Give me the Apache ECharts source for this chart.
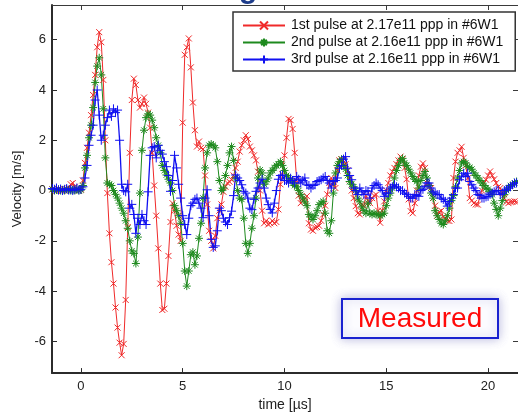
<!DOCTYPE html>
<html>
<head>
<meta charset="utf-8">
<script src="https://cdn.jsdelivr.net/npm/echarts@6/dist/echarts.min.js"></script>
<style>
  html, body { margin: 0; padding: 0; background: #fff; }
  #chart { width: 518px; height: 417px; }
</style>
</head>
<body>
<div id="chart"></div>
<script>
// Sample times (µs), one row per microsecond
const times = [
  -1.4,-1.3,-1.2,-1.1,-1.0,-0.9,-0.8,-0.7,-0.6,-0.5,
  -0.4,-0.3,-0.2,-0.1,0.0,0.1,0.2,0.3,0.4,0.5,
  0.6,0.7,0.8,0.9,1.0,1.1,1.2,1.3,1.4,1.5,
  1.6,1.7,1.8,1.9,2.0,2.1,2.2,2.3,2.4,2.5,
  2.6,2.7,2.8,2.9,3.0,3.1,3.2,3.3,3.4,3.5,
  3.6,3.7,3.8,3.9,4.0,4.1,4.2,4.3,4.4,4.5,
  4.6,4.7,4.8,4.9,5.0,5.1,5.2,5.3,5.4,5.5,
  5.6,5.7,5.8,5.9,6.0,6.1,6.2,6.3,6.4,6.5,
  6.6,6.7,6.8,6.9,7.0,7.1,7.2,7.3,7.4,7.5,
  7.6,7.7,7.8,7.9,8.0,8.1,8.2,8.3,8.4,8.5,
  8.6,8.7,8.8,8.9,9.0,9.1,9.2,9.3,9.4,9.5,
  9.6,9.7,9.8,9.9,10.0,10.1,10.2,10.3,10.4,10.5,
  10.6,10.7,10.8,10.9,11.0,11.1,11.2,11.3,11.4,11.5,
  11.6,11.7,11.8,11.9,12.0,12.1,12.2,12.3,12.4,12.5,
  12.6,12.7,12.8,12.9,13.0,13.1,13.2,13.3,13.4,13.5,
  13.6,13.7,13.8,13.9,14.0,14.1,14.2,14.3,14.4,14.5,
  14.6,14.7,14.8,14.9,15.0,15.1,15.2,15.3,15.4,15.5,
  15.6,15.7,15.8,15.9,16.0,16.1,16.2,16.3,16.4,16.5,
  16.6,16.7,16.8,16.9,17.0,17.1,17.2,17.3,17.4,17.5,
  17.6,17.7,17.8,17.9,18.0,18.1,18.2,18.3,18.4,18.5,
  18.6,18.7,18.8,18.9,19.0,19.1,19.2,19.3,19.4,19.5,
  19.6,19.7,19.8,19.9,20.0,20.1,20.2,20.3,20.4,20.5,
  20.6,20.7,20.8,20.9,21.0,21.1,21.2,21.3,21.4
];

// Velocity (m/s), 1st pulse
const pulse1 = [
  0.05,0.02,0.0,0.05,0.03,0.0,0.02,0.05,0.1,0.25,
  0.3,0.15,0.05,0.0,0.05,0.4,1.1,1.7,2.3,3.0,
  3.8,4.6,5.7,6.3,5.9,4.4,2.0,-0.1,-1.7,-2.85,
  -3.7,-4.65,-5.45,-6.05,-6.55,-6.1,-4.35,-1.45,1.5,3.6,
  4.45,4.2,3.6,3.3,3.45,3.7,3.45,3.1,2.5,1.5,
  0.2,-1.0,-2.3,-3.7,-4.75,-4.7,-3.7,-2.6,-1.25,-0.5,
  -0.8,-1.4,-1.75,-2.0,2.7,5.4,5.7,6.05,4.9,3.5,
  2.4,1.75,1.95,1.7,1.65,0.6,-0.55,-1.6,-2.0,-2.3,
  -1.8,-1.1,-0.8,-0.55,-0.05,0.15,0.3,0.35,0.43,0.6,
  0.9,1.15,1.55,1.8,2.0,2.2,2.05,1.75,1.6,1.4,
  1.2,0.75,0.0,-0.8,-1.3,-1.2,-1.35,-1.3,-1.2,-1.3,
  -1.25,-0.75,0.25,0.65,1.4,2.1,2.85,2.8,2.45,1.5,
  0.4,-0.2,-0.5,-0.43,-0.3,-0.22,-1.3,-1.55,-1.6,-1.47,
  -1.45,-1.4,-1.2,-0.95,-0.6,-0.15,0.3,0.5,0.35,0.1,
  0.8,1.2,1.25,1.2,1.05,0.8,0.44,0.0,-0.3,-0.62,
  -0.9,-0.95,-0.56,-0.6,-0.2,-0.4,-0.5,-0.3,-0.2,-0.16,
  -0.8,-1.28,-0.8,-0.43,0.0,0.3,0.6,0.75,0.9,1.05,
  1.2,1.35,1.25,0.9,0.45,-0.35,-0.82,-0.9,-0.5,0.0,
  0.6,0.95,1.08,0.9,0.3,0.15,0.1,-0.3,-0.6,-1.0,
  -0.85,-0.8,-1.05,-1.1,-1.2,-1.21,-1.15,0.5,1.15,1.5,
  1.6,1.74,1.3,1.0,0.5,-0.3,-0.4,-0.5,-0.55,-0.56,
  -0.2,0.0,0.3,0.43,0.6,0.76,0.6,0.45,0.3,0.15,
  0.1,-0.1,-0.3,-0.45,-0.5,-0.45,-0.45,-0.43,-0.45
];

// Velocity (m/s), 2nd pulse
const pulse2 = [
  0.05,0.0,0.02,0.05,0.0,0.03,0.0,0.05,0.02,0.0,
  0.03,0.0,0.05,0.0,0.02,0.2,0.9,1.4,2.1,2.6,
  3.3,4.3,4.95,5.28,4.6,3.25,1.3,0.3,0.25,0.2,
  0.0,-0.15,-0.3,-0.5,-0.7,-0.9,-1.2,-1.5,-2.0,-2.4,
  -2.5,-2.9,-1.85,-0.1,1.6,2.4,2.9,3.05,3.0,2.8,
  2.5,2.1,1.8,1.5,1.0,0.8,0.62,0.45,0.3,0.0,
  -0.6,-0.8,-1.0,-1.3,-2.1,-3.2,-3.8,-3.2,-2.55,-2.45,
  -2.95,-2.6,-1.9,-1.3,-0.3,0.9,1.5,1.8,1.85,1.8,
  1.7,1.15,0.4,0.0,0.1,0.6,1.0,1.5,1.75,1.2,
  0.5,0.0,-0.3,-0.35,-1.1,-2.1,-2.5,-2.1,-1.5,-1.0,
  -0.3,0.5,0.82,0.7,0.25,0.35,0.5,0.7,0.8,0.9,
  1.0,1.05,1.15,1.0,0.8,0.6,0.5,0.45,0.3,0.2,
  0.15,0.0,-0.15,-0.3,-0.45,-0.6,-0.95,-1.05,-1.15,-1.0,
  -0.8,-0.56,-0.5,-0.43,-0.9,-1.6,-1.7,-1.2,-0.1,0.7,
  1.0,1.15,1.25,1.0,0.85,0.6,0.36,0.25,0.15,0.0,
  -0.3,-0.45,-0.65,-0.8,-0.9,-0.5,-0.9,-0.95,-0.9,-0.95,
  -0.95,-1.0,-0.95,-0.9,-0.6,-0.3,-0.1,0.1,0.5,0.8,
  1.0,1.2,1.28,1.1,1.0,0.85,0.7,0.56,0.45,0.36,
  0.1,0.4,0.6,0.76,0.5,0.2,-0.1,-0.3,-0.8,-1.0,
  -1.15,-1.3,-1.35,-1.2,-1.0,-0.7,-0.4,-0.2,0.15,0.5,
  0.8,1.1,1.15,1.1,0.95,0.92,0.85,0.7,0.6,0.5,
  0.4,0.3,0.2,0.1,0.05,-0.05,-0.16,-0.5,-0.75,-1.0,
  -0.7,-0.4,-0.16,0.0,0.1,0.2,0.23,0.3,0.36
];

// Velocity (m/s), 3rd pulse
const pulse3 = [
  0.08,0.05,0.1,0.02,0.06,0.0,0.05,0.08,0.02,0.05,
  0.0,0.05,0.1,0.03,0.05,0.15,0.5,1.0,1.8,2.2,
  2.6,3.6,4.0,3.0,2.0,2.2,2.6,2.9,3.2,2.95,
  3.25,3.1,3.2,2.0,0.25,0.0,-0.05,0.25,-0.7,-0.55,
  -0.95,-1.7,-1.1,-1.35,-0.95,-1.2,-1.35,-0.05,1.4,1.7,
  1.75,1.3,1.8,1.6,1.45,1.15,0.95,0.6,-0.03,0.4,
  1.4,0.9,0.25,-0.3,-1.0,-1.35,-1.75,-1.1,-0.6,-0.5,
  -0.35,-0.3,-0.5,-0.7,-1.08,-0.3,0.03,-1.0,-1.94,-2.26,
  -2.2,-1.6,-0.7,-0.8,-1.1,-1.25,-1.35,-1.08,-0.82,-0.2,
  0.62,0.5,0.4,0.23,-0.03,-0.1,-0.3,-0.7,-0.76,-0.35,
  -0.03,0.1,0.3,0.45,0.1,-0.3,-0.56,-0.75,-0.89,-0.5,
  0.0,0.45,0.6,0.62,0.4,0.4,0.3,0.49,0.4,0.3,
  0.56,0.45,0.3,0.4,0.5,0.23,0.2,0.1,0.2,0.23,
  0.36,0.4,0.43,0.5,0.56,0.4,0.3,0.1,0.36,0.4,
  0.5,0.89,1.0,1.25,1.35,0.89,0.6,0.43,0.1,0.0,
  -0.16,0.1,-0.05,-0.16,0.0,-0.03,-0.3,0.1,0.2,0.3,
  0.23,0.1,0.0,-0.23,-0.1,-0.1,0.1,0.15,0.23,0.15,
  0.1,0.0,0.0,-0.1,-0.15,-0.23,-0.3,-0.3,-0.16,-0.2,
  -0.23,0.0,0.05,0.17,0.3,0.3,0.1,-0.05,-0.1,-0.16,
  -0.16,-0.3,-0.35,-0.43,-0.62,-0.43,-0.3,-0.16,0.1,0.1,
  0.43,0.55,0.69,0.56,0.69,0.36,0.23,0.1,0.0,-0.16,
  -0.2,-0.3,-0.3,-0.25,-0.23,-0.15,-0.1,-0.05,0.0,0.0,
  -0.16,-0.1,0.0,0.05,0.1,0.15,0.23,0.3,0.3
];

const seriesNames = [
  '1st pulse at 2.17e11 ppp in #6W1',
  '2nd pulse at 2.16e11 ppp in #6W1',
  '3rd pulse at 2.16e11 ppp in #6W1'
];
const xTicks = [0, 5, 10, 15, 20];
const yTicks = [-6, -4, -2, 0, 2, 4, 6];

const FONT = '"Liberation Sans", Arial, Helvetica, sans-serif';

// marker outlines: cross, asterisk, plus
const MARK_X = 'path://M-1,-1L1,1M-1,1L1,-1';
const MARK_STAR = 'path://M0,-1L0,1M-1,0L1,0M-0.7,-0.7L0.7,0.7M-0.7,0.7L0.7,-0.7';
const MARK_PLUS = 'path://M0,-1L0,1M-1,0L1,0';

function pairs(vals) {
  return vals.map((v, i) => [times[i], v]);
}

function lineSeries(name, vals, color, symbol, size, width) {
  return {
    name: name,
    type: 'line',
    data: pairs(vals),
    symbol: symbol,
    symbolSize: size,
    showAllSymbol: true,
    animation: false,
    lineStyle: { color: color, width: width },
    itemStyle: { color: color, borderColor: color, borderWidth: 1 },
    emphasis: { disabled: true }
  };
}

const chart = echarts.init(document.getElementById('chart'), null, { renderer: 'canvas' });

const xMin = -1.42, xMax = 21.47;
const yMin = -7.26, yMax = 7.38;
const axisDark = '#2b2b2b';

chart.setOption({
  backgroundColor: '#ffffff',
  animation: false,
  grid: { left: 52, top: 5, width: 467, height: 372, show: false },
  legend: {
    orient: 'vertical',
    left: 233,
    top: 12,
    padding: [6, 12, 4, 9],
    itemWidth: 42,
    itemHeight: 10,
    itemGap: 2,
    backgroundColor: '#ffffff',
    borderColor: '#333333',
    borderWidth: 1.5,
    textStyle: { fontFamily: FONT, fontSize: 14, color: '#111', lineHeight: 15, padding: [0, 0, 0, 1] },
    data: seriesNames
  },
  xAxis: [
    {
      type: 'value', min: xMin, max: xMax, position: 'bottom',
      name: 'time [\u00b5s]', nameLocation: 'middle', nameGap: 22,
      nameTextStyle: { fontFamily: FONT, fontSize: 14, color: '#222' },
      axisLine: { onZero: false, lineStyle: { color: axisDark, width: 2 } },
      axisTick: { inside: true, length: 5, customValues: xTicks, lineStyle: { color: axisDark, width: 1 } },
      axisLabel: { customValues: xTicks, fontFamily: FONT, fontSize: 13, color: '#222', margin: 7 },
      splitLine: { show: false }
    },
    {
      type: 'value', min: xMin, max: xMax, position: 'top',
      axisLine: { onZero: false, lineStyle: { color: '#3a3a3a', width: 1 } },
      axisTick: { inside: true, length: 5, customValues: xTicks, lineStyle: { color: '#3a3a3a', width: 1 } },
      axisLabel: { show: false },
      splitLine: { show: false }
    }
  ],
  yAxis: [
    {
      type: 'value', min: yMin, max: yMax, position: 'left',
      name: 'Velocity [m/s]', nameLocation: 'middle', nameGap: 28, nameRotate: 90,
      nameTextStyle: { fontFamily: FONT, fontSize: 13, color: '#222' },
      axisLine: { onZero: false, lineStyle: { color: axisDark, width: 2 } },
      axisTick: { inside: true, length: 5, customValues: yTicks, lineStyle: { color: axisDark, width: 1 } },
      axisLabel: { customValues: yTicks, fontFamily: FONT, fontSize: 13, color: '#222', margin: 6 },
      splitLine: { show: false }
    },
    {
      type: 'value', min: yMin, max: yMax, position: 'right',
      axisLine: { onZero: false, lineStyle: { color: '#3a3a3a', width: 1 } },
      axisTick: { inside: true, length: 5, customValues: yTicks, lineStyle: { color: '#3a3a3a', width: 1 } },
      axisLabel: { show: false },
      splitLine: { show: false }
    }
  ],
  series: [
    lineSeries(seriesNames[0], pulse1, '#f02a2a', MARK_X, 6, 1),
    lineSeries(seriesNames[1], pulse2, '#1e8a1e', MARK_STAR, 8, 1),
    lineSeries(seriesNames[2], pulse3, '#1010f0', MARK_PLUS, 9, 1.3)
  ],
  graphic: [
    {
      type: 'text', left: 239, top: -25, silent: true,
      style: { text: 'g', fontFamily: FONT, fontSize: 30, fontWeight: 'bold', fill: '#1d3c8a' }
    },
    {
      type: 'rect', silent: true,
      shape: { x: 342, y: 299, width: 156, height: 39 },
      style: {
        fill: '#fcfcff', stroke: '#1a22d0', lineWidth: 2,
        shadowBlur: 10, shadowColor: 'rgba(110,110,190,0.45)'
      }
    },
    {
      type: 'text', silent: true, x: 420, y: 319,
      style: {
        text: 'Measured', fontFamily: FONT, fontSize: 28, fill: '#ff0a0a',
        align: 'center', verticalAlign: 'middle'
      }
    }
  ]
});
</script>
</body>
</html>
